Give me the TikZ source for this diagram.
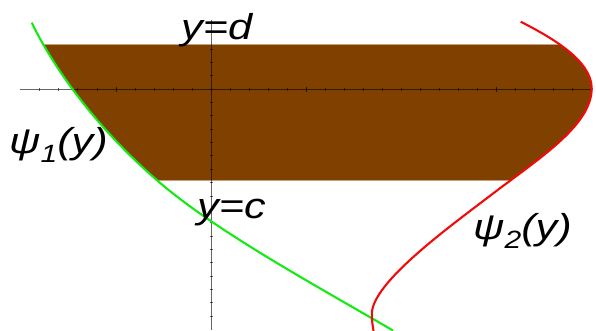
\documentclass[tikz,border=0pt]{standalone}
\usepackage{fontspec}
\setsansfont{Liberation Sans}
\usepackage{graphicx}
\usepackage{tikz}
\usetikzlibrary{positioning}
\definecolor{regionbrown}{RGB}{128,64,0}
\definecolor{regionedge}{RGB}{200,160,120}
\definecolor{curvegreen}{RGB}{20,235,20}
\definecolor{curvered}{RGB}{240,10,10}
\tikzset{
  axisline/.style={black, opacity=0.6, line width=0.9pt},
  tickmark/.style={black, opacity=0.6, line width=0.6pt},
  curve/.style={line width=2.1pt},
  lbl/.style={font=\sffamily\itshape\fontsize{36}{36}\selectfont, inner sep=0pt, anchor=base west}
}
\newcommand{\wide}[1]{\scalebox{1.2}[1]{#1}}
\newcommand{\sub}[1]{\raisebox{-0.26em}{\fontsize{25}{25}\selectfont #1}}
\newcommand{\greencurve}{(31.7,22.7) .. controls (56.2,72.7) and (99.2,130) .. (156.7,180)
  .. controls (214.2,230) and (307,280.5) .. (393,330.5)}
\newcommand{\redcurve}{(520.7,21.7) .. controls (550,36.7) and (591.7,60) .. (591.7,88.3)
  .. controls (591.7,125) and (540.5,157.3) .. (493.3,193.3)
  .. controls (447.4,228.3) and (371.8,283) .. (371.8,314)
  .. controls (371.8,322) and (373,327) .. (373.5,331)}
\begin{document}
\begin{tikzpicture}[x=1pt, y=-1pt]
\useasboundingbox (0,0) rectangle (596,330);
% region between the curves
\begin{scope}
  \clip \greencurve -- (596,331) -- (596,0) -- cycle;
  \clip \redcurve -- (0,331) -- (0,0) -- cycle;
  \filldraw[fill=regionbrown, draw=regionedge, line width=0.7pt] (0,44) rectangle (596,180);
\end{scope}
% axes
\draw[axisline] (20,89) -- (593,89);
\draw[axisline] (211,20) -- (211,330);
\foreach \k in {-9,...,19}
  \draw[tickmark] (211+19.03*\k,87.5) -- (211+19.03*\k,90.5);
\foreach \k in {-5,5,15}
  \draw[tickmark] (211+19.03*\k,86.5) -- (211+19.03*\k,91.5);
\foreach \k in {-3,...,17}
  \draw[tickmark] (209.5,89+13.35*\k) -- (212.5,89+13.35*\k);
% curves
\draw[curve, curvegreen] \greencurve;
\draw[curve, curvered] \redcurve;
% labels
\node[lbl] (top) at (181,39.3) {\wide{y=d}};
\node[lbl] (bottom) at (197,218) {\wide{y=c}};
\node[lbl] (psione) at (9,153) {\wide{ψ\sub{1}(y)}};
\node[lbl] (psitwo) at (473,239) {\wide{ψ\sub{2}(y)}};
\end{tikzpicture}
\end{document}
